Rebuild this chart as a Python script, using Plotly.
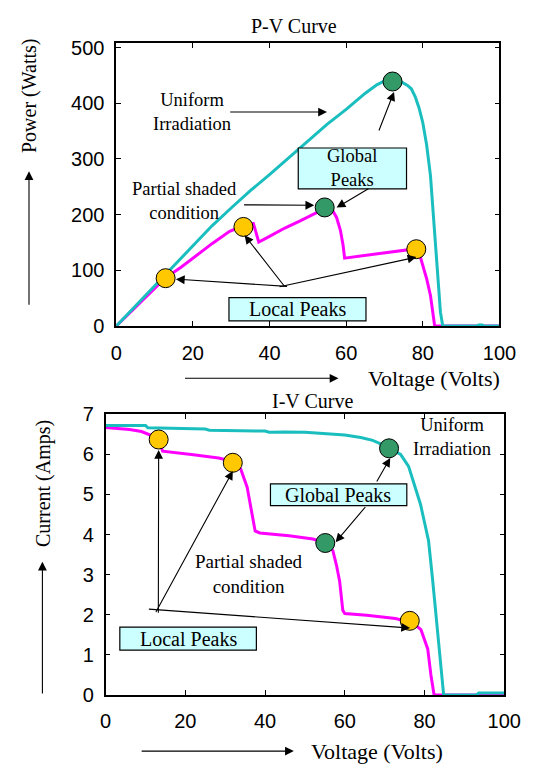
import plotly.graph_objects as go

# ---------------- data ----------------
# P-V curve, uniform irradiation
pv_uni_V = [0, 5, 10, 15, 20, 25, 30, 35, 40, 45, 50, 55, 60, 65, 68, 70, 72, 74, 76, 77, 78, 79, 80, 81, 82, 83, 84, 84.6, 85.2, 94, 94.6, 95.5, 96, 100]
pv_uni_P = [0, 36, 73, 109, 145, 180, 212, 243, 272, 302, 333, 362, 389, 418, 433, 440, 442, 440, 432, 426, 412, 392, 365, 325, 270, 172, 72, 25, 0, 0, 2, 2, 0, 0]
# P-V curve, partial shading
pv_sh_V = [0, 5, 10, 12.9, 17, 21, 25, 29.6, 33, 35.8, 37.2, 40, 44, 48, 52, 54.4, 56.5, 57.5, 58.5, 59.2, 59.6, 64, 68, 72, 76, 78.3, 79.2, 80, 81, 82, 82.6, 83.1, 100]
pv_sh_P = [0, 34, 67, 87, 106, 127, 148, 170, 180, 184, 151, 161, 176, 189, 203, 211, 207, 195, 172, 145, 122, 126, 130, 133, 137, 139, 128, 110, 85, 55, 20, 0, 0]
# I-V curve, uniform irradiation
iv_uni_V = [0, 10, 10.6, 25, 26, 40, 41, 45, 50, 55, 60, 64, 67, 70, 72, 74, 76, 78, 79, 80, 81, 82, 83, 84, 84.8, 93, 93.6, 100]
iv_uni_I = [6.72, 6.72, 6.66, 6.63, 6.6, 6.58, 6.55, 6.56, 6.55, 6.52, 6.48, 6.42, 6.35, 6.22, 6.1, 6.0, 5.7, 5.1, 4.75, 4.3, 3.85, 2.9, 1.85, 0.66, 0, 0, 0.05, 0.05]
# I-V curve, partial shading
iv_sh_V = [0, 6, 9, 12, 13.5, 14.3, 22, 28.3, 31, 33.9, 35.5, 36.7, 37.5, 38.7, 46, 52, 55.5, 57, 57.9, 58.7, 59.5, 60, 65.5, 72.7, 77, 79.1, 80.8, 81.6, 82.4, 100]
iv_sh_I = [6.67, 6.62, 6.57, 6.45, 6.3, 6.08, 5.99, 5.91, 5.85, 5.63, 5.18, 4.54, 4.09, 4.04, 3.97, 3.89, 3.78, 3.6, 3.24, 2.84, 2.11, 2.03, 1.99, 1.91, 1.8, 1.63, 1.15, 0.5, 0, 0]

# peaks
pv_local_V = [12.9, 33.2, 78.3]
pv_local_P = [86, 178, 138]
pv_global_V = [54.4, 72.1]
pv_global_P = [213, 439]
iv_local_V = [13.3, 31.9, 76.3]
iv_local_I = [6.37, 5.79, 1.85]
iv_global_V = [55.1, 71.1]
iv_global_I = [3.79, 6.15]

x_ticks = [0, 20, 40, 60, 80, 100]
p_ticks = [0, 100, 200, 300, 400, 500]
i_ticks = [0, 1, 2, 3, 4, 5, 6, 7]

# ---------------- styles ----------------
W, H = 550, 776
CYAN = "#1ABEBE"
MAGENTA = "#FF00FF"
YELLOW = "#FFC800"
GREEN = "#339966"
BOXFILL = "#CCFFFF"
SERIF = "Liberation Serif"
SANS = "Liberation Sans"


def pp(x, y):
    return x / W, 1 - y / H


fig = go.Figure()

mk = lambda c: dict(color=c, size=19, line=dict(color="black", width=1))

fig.add_trace(go.Scatter(x=pv_sh_V, y=pv_sh_P, mode="lines", line=dict(color=MAGENTA, width=3), xaxis="x", yaxis="y"))
fig.add_trace(go.Scatter(x=pv_uni_V, y=pv_uni_P, mode="lines", line=dict(color=CYAN, width=3), xaxis="x", yaxis="y"))
fig.add_trace(go.Scatter(x=pv_local_V, y=pv_local_P, mode="markers", marker=mk(YELLOW), xaxis="x", yaxis="y"))
fig.add_trace(go.Scatter(x=pv_global_V, y=pv_global_P, mode="markers", marker=mk(GREEN), xaxis="x", yaxis="y"))

fig.add_trace(go.Scatter(x=iv_sh_V, y=iv_sh_I, mode="lines", line=dict(color=MAGENTA, width=3), xaxis="x2", yaxis="y2"))
fig.add_trace(go.Scatter(x=iv_uni_V, y=iv_uni_I, mode="lines", line=dict(color=CYAN, width=3), xaxis="x2", yaxis="y2"))
fig.add_trace(go.Scatter(x=iv_local_V, y=iv_local_I, mode="markers", marker=mk(YELLOW), xaxis="x2", yaxis="y2"))
fig.add_trace(go.Scatter(x=iv_global_V, y=iv_global_I, mode="markers", marker=mk(GREEN), xaxis="x2", yaxis="y2"))

axis_common = dict(showline=True, linecolor="black", linewidth=1.5, mirror="ticks", ticks="inside",
                   ticklen=5, tickwidth=1, tickcolor="black", showgrid=False, zeroline=False,
                   tickfont=dict(family=SANS, size=20, color="black"))

fig.update_layout(
    width=W, height=H, autosize=False,
    margin=dict(l=0, r=0, t=0, b=0),
    paper_bgcolor="white", plot_bgcolor="white",
    showlegend=False,
    xaxis=dict(domain=[115 / W, 515 / W], range=[0, 100], tickvals=x_ticks, anchor="y",
               ticklabelstandoff=8, **axis_common),
    yaxis=dict(domain=[1 - 324.3 / H, 1 - 33 / H], range=[0, 508], tickvals=p_ticks, anchor="x",
               ticklabelstandoff=6, **axis_common),
    xaxis2=dict(domain=[104 / W, 520 / W], range=[0, 100], tickvals=x_ticks, anchor="y2",
                ticklabelstandoff=7, **axis_common),
    yaxis2=dict(domain=[1 - 704 / H, 1 - 415 / H], range=[0, 7], tickvals=i_ticks, anchor="x2",
                ticklabelstandoff=6, **axis_common),
)

annotations = []
shapes = []


def text(s, x, y, size=20, angle=0, xanchor="center"):
    px_, py_ = pp(x, y)
    annotations.append(dict(text=s, x=px_, y=py_, xref="paper", yref="paper", showarrow=False,
                            xanchor=xanchor, yanchor="middle", textangle=angle, align="center",
                            font=dict(family=SERIF, size=size, color="black")))


def arrow(tail, tip, size=1.6, width=1.1):
    px_, py_ = pp(*tip)
    annotations.append(dict(text="", x=px_, y=py_, xref="paper", yref="paper", showarrow=True,
                            ax=tail[0] - tip[0], ay=tail[1] - tip[1], axref="pixel", ayref="pixel",
                            arrowhead=2, arrowsize=size, arrowwidth=width, arrowcolor="black", standoff=0))


def box(x0, y0, x1, y1):
    a0, b0 = pp(x0, y0)
    a1, b1 = pp(x1, y1)
    shapes.append(dict(type="rect", xref="paper", yref="paper", x0=a0, y0=b1, x1=a1, y1=b0,
                       fillcolor=BOXFILL, line=dict(color="black", width=1.2), layer="above"))


# ---- top chart texts ----
text("P-V Curve", 301, 15, size=20)
text("Power (Watts)", 24.5, 87, size=20, angle=-90)
arrow((24, 300), (24, 165))
text("Voltage (Volts)", 447, 378, size=22)
arrow((192, 378), (347, 378))
text("Uniform<br>Irradiation", 193.6, 104.3, size=18.5)
arrow((236.7, 104), (335, 104))
box(305, 141, 418, 183)
text("Global<br>Peaks", 361.5, 162, size=18.5)
arrow((389.3, 123.3), (405, 83.3))
arrow((378.3, 182.7), (345, 202.3))
text("Partial shaded<br>condition", 186.7, 196, size=18.5)
arrow((250, 199.5), (321.7, 200))
box(232.7, 295, 375.7, 319)
text("Local Peaks", 304, 307)
arrow((290, 283.3), (177.3, 276))
arrow((290, 283.3), (249, 230.7))
arrow((290, 283.3), (428.3, 253.3))

# ---- bottom chart texts ----
text("I-V Curve", 320, 401.7, size=20)
text("Current (Amps)", 38.4, 486, size=20, angle=-90)
arrow((38, 700), (38, 566.7))
text("Voltage (Volts)", 387, 761.7, size=22)
arrow((146.7, 761.7), (300.4, 761.7))
text("Uniform<br>Irradiation", 465.6, 438, size=18.5)
box(276, 486.7, 418.3, 509)
text("Global Peaks", 347, 498)
arrow((386.7, 485), (401, 460))
arrow((375, 510), (344, 546.7))
text("Partial shaded<br>condition", 253.4, 579, size=19)
box(118.8, 634, 261.3, 657.7)
text("Local Peaks", 190, 646)
arrow((159, 616), (159.3, 451.7))
arrow((159, 616), (236.7, 473.3))
arrow((159, 616), (421.7, 635))

fig.update_layout(annotations=annotations, shapes=shapes)

fig.write_html("out.html")
